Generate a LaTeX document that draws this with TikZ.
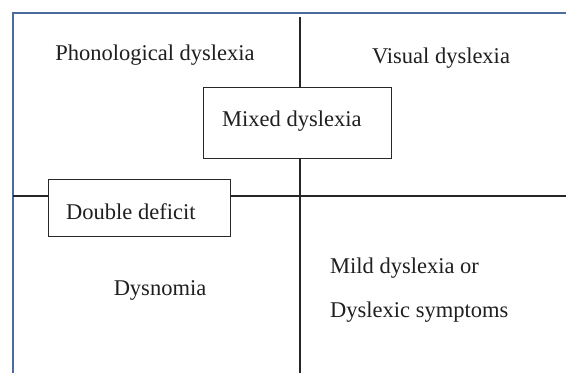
\documentclass[tikz,border=0pt]{standalone}
\usepackage{fontspec}
\setmainfont{Liberation Serif}
\definecolor{framecol}{RGB}{74,108,158}
\definecolor{boxcol}{RGB}{40,40,40}
\begin{document}
\begin{tikzpicture}[x=1pt,y=-1pt,
  lbl/.style={inner sep=0pt,font=\fontsize{22.5}{27}\selectfont,text=black!88},
  catbox/.style={draw=boxcol,line width=1.3pt,fill=white,rectangle,anchor=north west,inner sep=0pt},
  divider/.style={line width=2pt,black!85}]
\useasboundingbox (0,0) rectangle (566,373);
\fill[white] (0,0) rectangle (566,373);
% frame
\coordinate (fbl) at (13,373);
\coordinate (ftl) at (13,13);
\coordinate (ftr) at (566,13);
\draw[framecol,line width=2pt] (fbl) -- (ftl) -- (ftr);
% dividers
\coordinate (vt) at (300,17);
\coordinate (vb) at (300,373);
\coordinate (hl) at (13,196);
\coordinate (hr) at (566,196);
\draw[divider] (vt) -- (vb);
\draw[divider] (hl) -- (hr);
% boxes
\node[catbox,minimum width=188pt,minimum height=71pt] (mixbox) at (203,87) {};
\node[lbl,anchor=west] (mix) at (222,121) {Mixed dyslexia};
\node[catbox,minimum width=182pt,minimum height=57pt] (dblbox) at (48,179) {};
\node[lbl,anchor=west] (dbl) at (66,212) {Double deficit};
% quadrant labels
\node[lbl] (phon) at (155,55) {Phonological dyslexia};
\node[lbl] (vis) at (441,58) {Visual dyslexia};
\node[lbl] (dysn) at (160,290) {Dysnomia};
\node[lbl,anchor=west] (mild) at (330,268) {Mild dyslexia or};
\node[lbl,anchor=west] (symp) at (330,312) {Dyslexic symptoms};
\end{tikzpicture}
\end{document}
